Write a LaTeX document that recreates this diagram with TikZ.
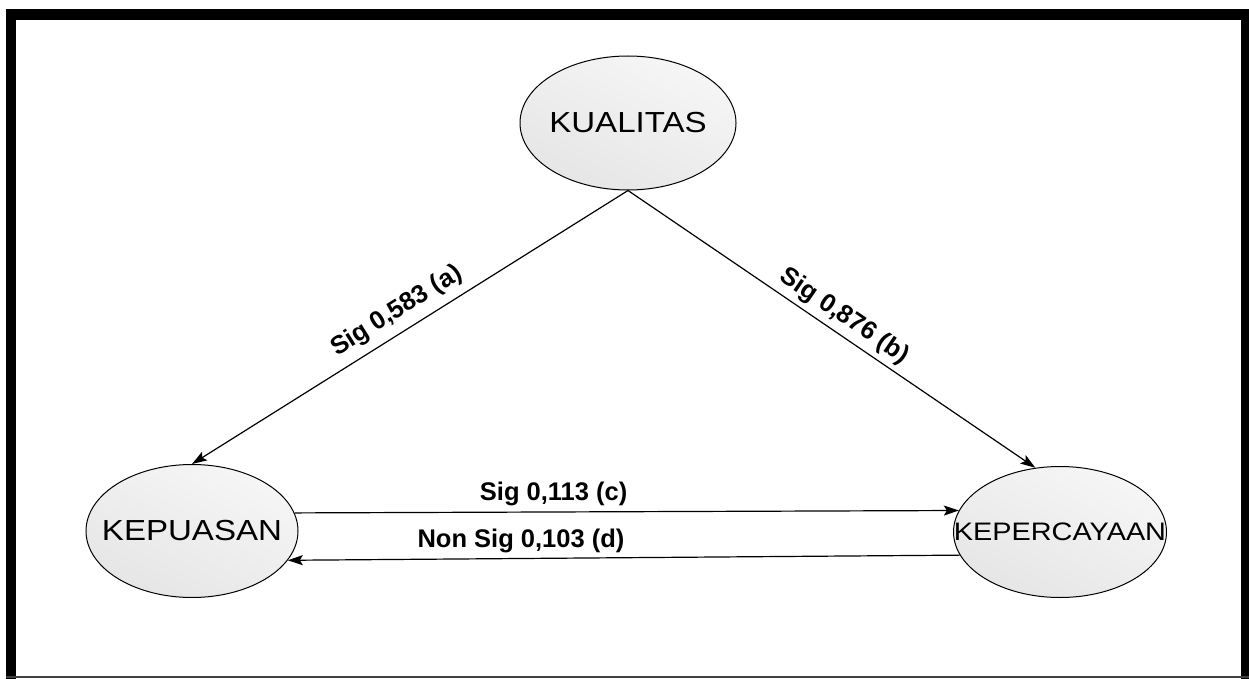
\documentclass[tikz,border=0pt]{standalone}
\usepackage{fontspec}
\setmainfont{Liberation Sans}
\newfontfamily\nodefont[FakeStretch=1.14]{Liberation Sans}
\usetikzlibrary{shapes.geometric,arrows.meta}
\begin{document}
\begin{tikzpicture}[x=1pt,y=-1pt,
  varnode/.style={ellipse,draw=black,line width=1pt,inner sep=0pt,
    top color=gray!7,bottom color=gray!20,shading angle=-25},
  conn/.style={line width=1.2pt,-{Stealth[length=15pt,width=10pt,inset=3pt]}},
  lbl/.style={font=\bfseries\fontsize{25.5}{28}\selectfont,inner sep=0pt}]
\useasboundingbox (0,0) rectangle (1249,679);
% frame
\fill[black] (6,9) rectangle (1249,20);
\fill[black] (6,9) rectangle (16,679);
\fill[black] (1241,9) rectangle (1249,679);
\draw[black!75,line width=1.6pt] (6,677) -- (1249,677);
% nodes
\node[varnode,minimum width=216pt,minimum height=134pt] (kua) at (628,123)
  {\makebox[0pt]{\nodefont\fontsize{29}{31}\selectfont KUALITAS}};
\node[varnode,minimum width=212pt,minimum height=133pt] (kep) at (192,531)
  {\makebox[0pt]{\nodefont\fontsize{29}{31}\selectfont KEPUASAN}};
\node[varnode,minimum width=213pt,minimum height=131pt] (kpc) at (1060,532)
  {\makebox[0pt]{\nodefont\fontsize{25.3}{27}\selectfont KEPERCAYAAN}};
% connectors
\draw[conn] (kua.south) -- node[lbl,sloped,above=8pt,pos=0.505] {Sig 0,583 (a)} (kep.north);
\draw[conn] (kua.south) -- node[lbl,sloped,above=5pt,pos=0.507] {Sig 0,876 (b)} (kpc.111);
\draw[conn] (kep.10) -- node[lbl,above=5pt,pos=0.39] {Sig 0,113 (c)} (kpc.168);
\draw[conn] (kpc.193) -- node[lbl,above=5pt,pos=0.653] {Non Sig 0,103 (d)} (kep.-17.6);
\end{tikzpicture}
\end{document}
